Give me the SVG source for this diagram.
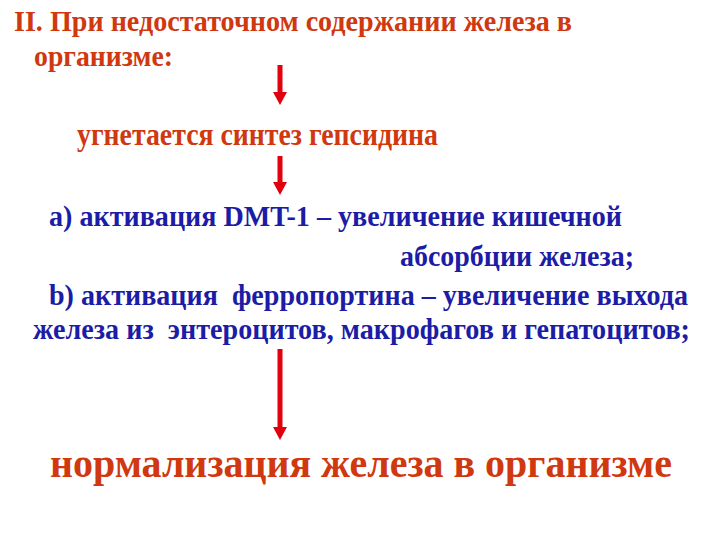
<svg xmlns="http://www.w3.org/2000/svg" width="720" height="540" viewBox="0 0 720 540">
<style>
.r{fill:#d0380f}
.b{fill:#1c1ca6}
.sh{stroke:#e0000e;stroke-width:5;fill:none}
.hd{fill:#e0000e}
</style>
<rect width="720" height="540" fill="#ffffff"/>
<g font-family="Liberation Serif" font-weight="bold">
<g id="title">
<text class="r" x="14" y="31" font-size="29" textLength="558" lengthAdjust="spacingAndGlyphs">II. При недостаточном содержании железа в</text>
<text class="r" x="34" y="66" font-size="30" textLength="139" lengthAdjust="spacingAndGlyphs">организме:</text>
</g>
<g id="step1">
<text class="r" x="77" y="145" font-size="31" textLength="361" lengthAdjust="spacingAndGlyphs">угнетается синтез гепсидина</text>
</g>
<g id="step2">
<text class="b" x="49" y="226" font-size="29" textLength="573" lengthAdjust="spacingAndGlyphs">а) активация DMT-1 – увеличение кишечной</text>
<text class="b" x="400" y="266" font-size="29" textLength="234" lengthAdjust="spacingAndGlyphs">абсорбции железа;</text>
<text class="b" x="49" y="305" font-size="29" textLength="639" lengthAdjust="spacingAndGlyphs" xml:space="preserve">b) активация  ферропортина – увеличение выхода</text>
<text class="b" x="33" y="339" font-size="29" textLength="657" lengthAdjust="spacingAndGlyphs" xml:space="preserve">железа из  энтероцитов, макрофагов и гепатоцитов;</text>
</g>
<g id="result">
<text class="r" x="50" y="477" font-size="43" textLength="622" lengthAdjust="spacingAndGlyphs">нормализация железа в организме</text>
</g>
</g>
<g id="connectors">
<line class="sh" x1="280" y1="65" x2="280" y2="93"/>
<polygon class="hd" points="273,92 287,92 280,105"/>
<line class="sh" x1="280" y1="156" x2="280" y2="183"/>
<polygon class="hd" points="273,182 287,182 280,195"/>
<line class="sh" x1="280" y1="349" x2="280" y2="428"/>
<polygon class="hd" points="273,427 287,427 280,440"/>
</g>
</svg>
